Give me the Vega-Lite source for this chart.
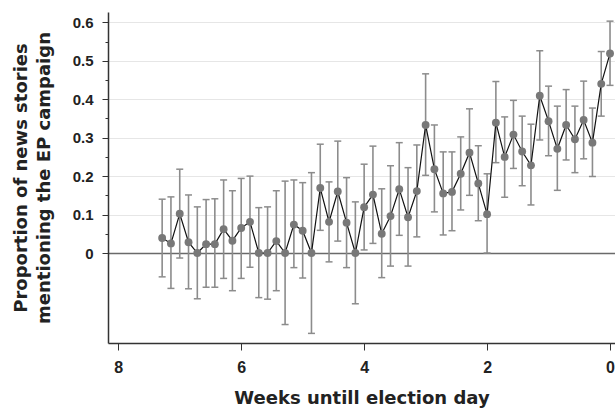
{
  "$schema": "https://vega.github.io/schema/vega-lite/v6.json",
  "width": 507,
  "height": 331,
  "autosize": {"type": "none"},
  "padding": {"left": 108, "top": 12, "right": 0, "bottom": 65},
  "background": "white",
  "config": {
    "view": {"stroke": null},
    "font": "DejaVu Sans"
  },
  "data": {
    "values": [
      {"w": 7.286, "p": 0.039, "lo": -0.062, "hi": 0.140},
      {"w": 7.143, "p": 0.025, "lo": -0.092, "hi": 0.146},
      {"w": 7.000, "p": 0.102, "lo": -0.013, "hi": 0.218},
      {"w": 6.857, "p": 0.028, "lo": -0.093, "hi": 0.151},
      {"w": 6.714, "p": 0.000, "lo": -0.119, "hi": 0.120},
      {"w": 6.571, "p": 0.023, "lo": -0.089, "hi": 0.139},
      {"w": 6.429, "p": 0.023, "lo": -0.089, "hi": 0.141},
      {"w": 6.286, "p": 0.062, "lo": -0.066, "hi": 0.190},
      {"w": 6.143, "p": 0.032, "lo": -0.098, "hi": 0.162},
      {"w": 6.000, "p": 0.065, "lo": -0.066, "hi": 0.194},
      {"w": 5.857, "p": 0.081, "lo": -0.037, "hi": 0.200},
      {"w": 5.714, "p": 0.000, "lo": -0.116, "hi": 0.118},
      {"w": 5.571, "p": 0.000, "lo": -0.120, "hi": 0.120},
      {"w": 5.429, "p": 0.031, "lo": -0.098, "hi": 0.162},
      {"w": 5.286, "p": 0.000, "lo": -0.186, "hi": 0.187},
      {"w": 5.143, "p": 0.074, "lo": -0.038, "hi": 0.190},
      {"w": 5.000, "p": 0.058, "lo": -0.065, "hi": 0.183},
      {"w": 4.857, "p": 0.000, "lo": -0.209, "hi": 0.209},
      {"w": 4.714, "p": 0.169, "lo": 0.059, "hi": 0.283},
      {"w": 4.571, "p": 0.081, "lo": -0.023, "hi": 0.185},
      {"w": 4.429, "p": 0.160, "lo": 0.031, "hi": 0.291},
      {"w": 4.286, "p": 0.079, "lo": -0.038, "hi": 0.196},
      {"w": 4.143, "p": 0.000, "lo": -0.132, "hi": 0.133},
      {"w": 4.000, "p": 0.119, "lo": 0.008, "hi": 0.231},
      {"w": 3.857, "p": 0.152, "lo": 0.025, "hi": 0.278},
      {"w": 3.714, "p": 0.050, "lo": -0.064, "hi": 0.167},
      {"w": 3.571, "p": 0.096, "lo": -0.034, "hi": 0.227},
      {"w": 3.429, "p": 0.166, "lo": 0.046, "hi": 0.287},
      {"w": 3.286, "p": 0.093, "lo": -0.034, "hi": 0.222},
      {"w": 3.143, "p": 0.161, "lo": 0.042, "hi": 0.281},
      {"w": 3.000, "p": 0.333, "lo": 0.202, "hi": 0.466},
      {"w": 2.857, "p": 0.218, "lo": 0.107, "hi": 0.333},
      {"w": 2.714, "p": 0.155, "lo": 0.047, "hi": 0.263},
      {"w": 2.571, "p": 0.159, "lo": 0.058, "hi": 0.263},
      {"w": 2.429, "p": 0.206, "lo": 0.112, "hi": 0.302},
      {"w": 2.286, "p": 0.261, "lo": 0.150, "hi": 0.375},
      {"w": 2.143, "p": 0.181, "lo": 0.084, "hi": 0.279},
      {"w": 2.000, "p": 0.101, "lo": 0.000, "hi": 0.206},
      {"w": 1.857, "p": 0.339, "lo": 0.235, "hi": 0.446},
      {"w": 1.714, "p": 0.250, "lo": 0.145, "hi": 0.354},
      {"w": 1.571, "p": 0.308, "lo": 0.220, "hi": 0.397},
      {"w": 1.429, "p": 0.264, "lo": 0.175, "hi": 0.356},
      {"w": 1.286, "p": 0.228, "lo": 0.125, "hi": 0.335},
      {"w": 1.143, "p": 0.409, "lo": 0.294, "hi": 0.526},
      {"w": 1.000, "p": 0.343, "lo": 0.253, "hi": 0.434},
      {"w": 0.857, "p": 0.271, "lo": 0.163, "hi": 0.382},
      {"w": 0.714, "p": 0.333, "lo": 0.242, "hi": 0.425},
      {"w": 0.571, "p": 0.296, "lo": 0.209, "hi": 0.382},
      {"w": 0.429, "p": 0.346, "lo": 0.245, "hi": 0.447},
      {"w": 0.286, "p": 0.287, "lo": 0.199, "hi": 0.377},
      {"w": 0.143, "p": 0.440, "lo": 0.356, "hi": 0.524},
      {"w": 0.000, "p": 0.519, "lo": 0.436, "hi": 0.603}
    ]
  },
  "encoding": {
    "x": {
      "field": "w", "type": "quantitative",
      "scale": {"domain": [-0.081, 8.167], "reverse": true, "nice": false, "zero": false},
      "axis": {
        "values": [0, 2, 4, 6, 8],
        "format": "d",
        "grid": false,
        "domainColor": "#333333",
        "domainWidth": 1.5,
        "tickColor": "#333333",
        "tickWidth": 1,
        "tickSize": 7,
        "labelFont": "Liberation Sans",
        "labelFontWeight": "bold",
        "labelFontSize": 16,
        "labelColor": "#222222",
        "labelPadding": 9,
        "title": "Weeks untill election day",
        "titleFont": "DejaVu Sans",
        "titleFontSize": 18,
        "titleFontWeight": "bold",
        "titleColor": "#222222",
        "titlePadding": 14
      }
    }
  },
  "resolve": {"axis": {"y": "independent"}},
  "layer": [
    {
      "mark": {"type": "rule", "color": "#8c8c8c", "strokeWidth": 1.6},
      "encoding": {
        "y": {
          "field": "lo", "type": "quantitative",
          "scale": {"domain": [-0.234, 0.6268], "nice": false, "zero": false},
          "axis": {
            "values": [0, 0.05, 0.1, 0.15, 0.2, 0.25, 0.3, 0.35, 0.4, 0.45, 0.5, 0.55, 0.6],
            "labelExpr": "round(datum.value*20) % 2 == 0 ? (datum.value == 0 ? '0' : format(datum.value, '.1f')) : ''",
            "grid": true,
            "gridColor": {"condition": {"test": "datum.value == 0", "value": "#6a6a6a"}, "value": "#e6e6e6"},
            "gridWidth": {"condition": {"test": "datum.value == 0", "value": 1.5}, "value": 1.2},
            "gridOpacity": {"condition": {"test": "round(datum.value*20) % 2 == 0", "value": 1}, "value": 0},
            "tickSize": {"condition": {"test": "round(datum.value*20) % 2 == 0", "value": 6}, "value": 3},
            "domainColor": "#333333",
            "domainWidth": 1.5,
            "tickColor": "#333333",
            "labelFont": "Liberation Sans",
            "labelFontWeight": "bold",
            "labelFontSize": 15,
            "labelColor": "#222222",
            "labelPadding": 9,
            "title": ["Proportion of news stories", "mentioning the EP campaign"],
            "titleFont": "DejaVu Sans",
            "titleFontSize": 18,
            "titleFontWeight": "bold",
            "titleColor": "#222222",
            "titleLineHeight": 23,
            "titlePadding": 19
          }
        },
        "y2": {"field": "hi"}
      }
    },
    {
      "mark": {"type": "tick", "orient": "horizontal", "color": "#8c8c8c", "size": 7, "thickness": 1.5, "opacity": 1},
      "encoding": {
        "y": {"field": "lo", "type": "quantitative", "axis": null}
      }
    },
    {
      "mark": {"type": "tick", "orient": "horizontal", "color": "#8c8c8c", "size": 7, "thickness": 1.5, "opacity": 1},
      "encoding": {
        "y": {"field": "hi", "type": "quantitative", "axis": null}
      }
    },
    {
      "mark": {"type": "line", "color": "#111111", "strokeWidth": 1.2},
      "encoding": {
        "y": {"field": "p", "type": "quantitative", "axis": null}
      }
    },
    {
      "mark": {"type": "circle", "color": "#787878", "size": 62, "opacity": 1},
      "encoding": {
        "y": {"field": "p", "type": "quantitative", "axis": null}
      }
    }
  ]
}
